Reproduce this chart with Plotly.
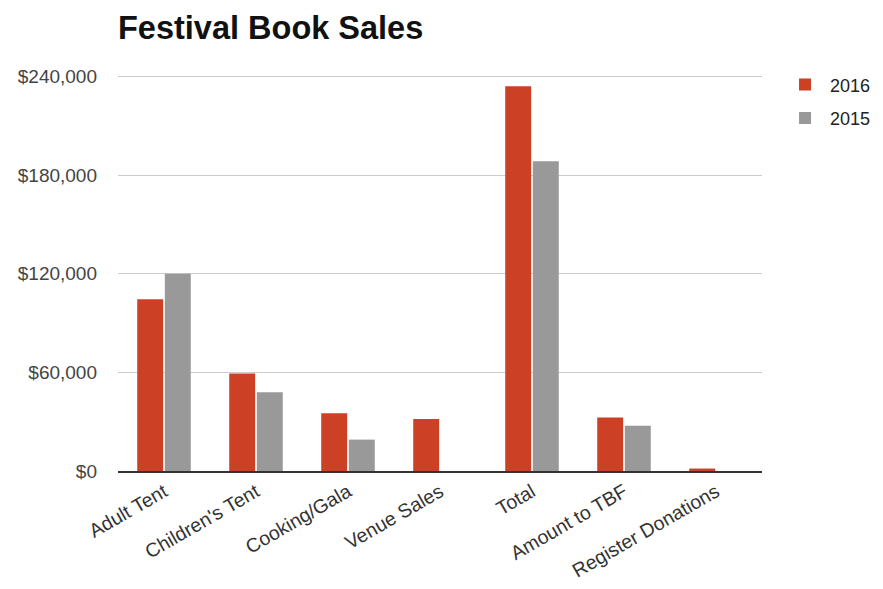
import plotly.graph_objects as go

categories = ["Adult Tent", "Children's Tent", "Cooking/Gala", "Venue Sales",
              "Total", "Amount to TBF", "Register Donations"]
sales_2016 = [104500, 59300, 35200, 31600, 234100, 32500, 1500]
sales_2015 = [120000, 47900, 19100, 0, 188500, 27600, 0]
y_ticks = [0, 60000, 120000, 180000, 240000]
y_tick_labels = ["$0", "$60,000", "$120,000", "$180,000", "$240,000"]

fig = go.Figure()
fig.add_trace(go.Bar(x=categories, y=sales_2016, name="2016", legendgroup="a",
                     marker=dict(color="#cc4125", line=dict(width=0))))
fig.add_trace(go.Bar(x=categories, y=sales_2015, name="2015", legendgroup="b",
                     marker=dict(color="#999999", line=dict(width=0))))

fig.update_layout(
    width=883, height=589,
    margin=dict(l=110, r=129, t=67, b=126, autoexpand=False),
    paper_bgcolor="white", plot_bgcolor="white",
    barmode="group", bargap=0.4, bargroupgap=0.06,
    font=dict(family="Arial, Liberation Sans, sans-serif", color="#444444", size=17),
    title=dict(text="<b>Festival Book Sales</b>", x=110/883, xanchor="left",
               y=1 - 20/589, yanchor="middle", pad=dict(l=0, r=0, t=0, b=0),
               font=dict(size=32.5, color="#111111")),
    legend=dict(x=1.028, xanchor="left", y=1.022, yanchor="top",
                font=dict(size=18, color="#222222"), itemwidth=40,
                tracegroupgap=7),
    showlegend=True,
)
fig.update_xaxes(tickangle=-30, showline=True, linecolor="#333333", linewidth=2,
                 showgrid=False, ticks="", automargin=False,
                 tickfont=dict(size=19.5, color="#333333"))
fig.update_yaxes(range=[0, 241000], tickvals=y_ticks, ticktext=y_tick_labels,
                 showgrid=True, gridcolor="#cccccc", gridwidth=1, zeroline=False,
                 ticks="", ticklabelstandoff=20, automargin=False,
                 tickfont=dict(size=19, color="#444444"))

fig.write_html("out.html")
